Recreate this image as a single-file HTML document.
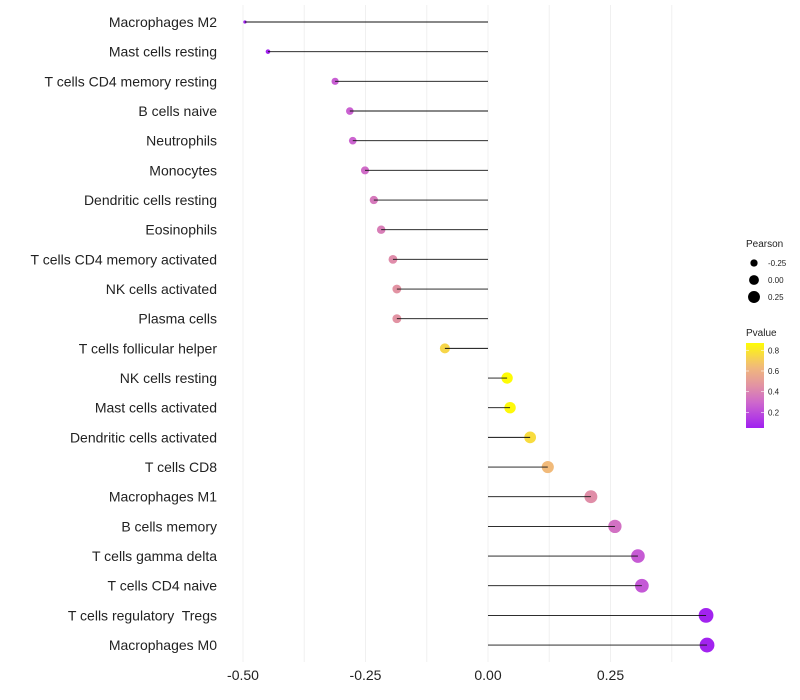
<!DOCTYPE html>
<html><head><meta charset="utf-8"><style>
body{margin:0;background:#fff;font-family:"Liberation Sans",sans-serif}
svg{display:block}
text{white-space:pre}
</style></head><body>
<svg id="c" width="800" height="700"></svg>
<script>
const categories=["Macrophages M2","Mast cells resting","T cells CD4 memory resting","B cells naive","Neutrophils","Monocytes","Dendritic cells resting","Eosinophils","T cells CD4 memory activated","NK cells activated","Plasma cells","T cells follicular helper","NK cells resting","Mast cells activated","Dendritic cells activated","T cells CD8","Macrophages M1","B cells memory","T cells gamma delta","T cells CD4 naive","T cells regulatory  Tregs","Macrophages M0"];
const pearson=[-0.496,-0.449,-0.312,-0.282,-0.276,-0.251,-0.233,-0.218,-0.194,-0.186,-0.186,-0.088,0.039,0.045,0.086,0.122,0.210,0.259,0.306,0.314,0.445,0.447];
const pvalue=[0.03,0.06,0.26,0.27,0.28,0.31,0.36,0.38,0.43,0.46,0.46,0.74,0.87,0.86,0.76,0.64,0.44,0.33,0.25,0.24,0.06,0.06];
const xTicks=[-0.5,-0.25,0,0.25];
const xTickLabels=["-0.50","-0.25","0.00","0.25"];
const pTicks=[0.2,0.4,0.6,0.8];
const sizeTicks=[-0.25,0,0.25];
const sizeTickLabels=["-0.25","0.00","0.25"];

const NS="http://www.w3.org/2000/svg";
const svg=document.getElementById('c');
function el(t,a,p){const e=document.createElementNS(NS,t);for(const k in a)e.setAttribute(k,a[k]);(p||svg).appendChild(e);return e;}
const xs=v=>488+v*490;
const ys=i=>22+i*29.67;
const rs=v=>Math.sqrt(Math.max(1.5,2.5+(v+0.5)*55));
const stops=[[0.05,[160,32,240]],[0.28,[204,100,208]],[0.45,[225,145,165]],[0.65,[242,188,120]],[0.88,[255,255,0]]];
function col(p){if(p<=stops[0][0])return 'rgb('+stops[0][1]+')';for(let i=1;i<stops.length;i++){if(p<=stops[i][0]){const a=stops[i-1],b=stops[i],t=(p-a[0])/(b[0]-a[0]);return 'rgb('+a[1].map((c,j)=>Math.round(c+(b[1][j]-c)*t)).join(',')+')';}}return 'rgb(255,255,0)';}
const py=p=>428-(p-0.05)/0.82*85;

// grid
[-0.5,-0.375,-0.25,-0.125,0,0.125,0.25,0.375].forEach(v=>{
 const g=el('line',{x1:xs(v),x2:xs(v),y1:5,y2:662,stroke:'#f0f0f0','stroke-width':1});
 
 
});
// ticks
xTicks.forEach((v,i)=>{
 const t=el('text',{x:xs(v),y:680,'text-anchor':'middle','font-size':14,fill:'#222'});
 t.textContent=xTickLabels[i];
 
 
});
categories.forEach((c,i)=>{
 const y=ys(i);
 const t=el('text',{x:217,y:y+5,'text-anchor':'end','font-size':14,fill:'#222'});
 t.textContent=c;
 
 
 const d=el('circle',{cx:xs(pearson[i]),cy:y,r:rs(pearson[i]),fill:col(pvalue[i])});
 
 
 const l=el('line',{x1:xs(0),x2:xs(pearson[i]),y1:y,y2:y,stroke:'#111','stroke-width':0.9});
 
 
});
// size legend
const st=el('text',{x:746,y:247,'font-size':10,fill:'#222'});st.textContent='Pearson';


sizeTicks.forEach((v,i)=>{
 const y=263+i*17;
 const c=el('circle',{cx:754,cy:y,r:rs(v)*0.9,fill:'#000'});
 
 
 const t=el('text',{x:768,y:y+3,'font-size':8,fill:'#222'});t.textContent=sizeTickLabels[i];
 
 
});
// color legend
const pt=el('text',{x:746,y:336,'font-size':10,fill:'#222'});pt.textContent='Pvalue';


const defs=el('defs',{});
const lg=el('linearGradient',{id:'pg',x1:0,y1:1,x2:0,y2:0},defs);
for(let k=0;k<=10;k++){const p=0.05+k*0.082;el('stop',{offset:k/10,'stop-color':col(p)},lg);}
const bar=el('rect',{x:746,y:343,width:18,height:85,fill:'url(#pg)'});


pTicks.forEach(p=>{
 el('line',{x1:746,x2:749,y1:py(p),y2:py(p),stroke:'#fff','stroke-width':0.6});
 el('line',{x1:761,x2:764,y1:py(p),y2:py(p),stroke:'#fff','stroke-width':0.6});
 const t=el('text',{x:768,y:py(p)+3,'font-size':8,fill:'#222'});t.textContent=p.toFixed(1);
 
 
});
</script>
</body></html>
